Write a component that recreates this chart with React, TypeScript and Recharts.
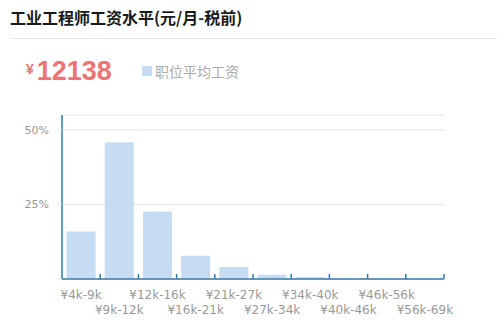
import { BarChart, Bar, XAxis, YAxis, CartesianGrid } from "recharts";

const salaryRanges = [
  "¥4k-9k",
  "¥9k-12k",
  "¥12k-16k",
  "¥16k-21k",
  "¥21k-27k",
  "¥27k-34k",
  "¥34k-40k",
  "¥40k-46k",
  "¥46k-56k",
  "¥56k-69k",
];
const sharePercent = [15.9, 45.9, 22.6, 7.8, 4.0, 1.4, 0.7, 0, 0, 0];
const yTicks = [0, 25, 50];

const averageSalary = "12138";
const seriesName = "职位平均工资";

const AXIS_COLOR = "#2f7db3";
const BAR_COLOR = "#c6dcf2";
const GRID_COLOR = "#e6e6e6";
const LABEL_COLOR = "#999999";

const CHART_W = 497;
const MARGIN = { top: 15, right: 53, left: 12, bottom: 8 };
const Y_AXIS_W = 50;
// half of one category band, from the fixed layout
const HALF_BAND = (CHART_W - MARGIN.left - MARGIN.right - Y_AXIS_W) / salaryRanges.length / 2;

const data = salaryRanges.map((label, i) => ({ label, value: sharePercent[i] }));

// staggered labels + small boundary tick at the right edge of each band
function RangeTick(props: any) {
  const { x, y, payload, index } = props;
  const axisY = y - 8;
  return (
    <g>
      <line
        x1={x + HALF_BAND}
        x2={x + HALF_BAND}
        y1={axisY - 5}
        y2={axisY}
        stroke={AXIS_COLOR}
        strokeWidth={1.5}
      />
      <text
        x={x}
        y={axisY + (index % 2 === 0 ? 16 : 31)}
        textAnchor="middle"
        dominantBaseline="central"
        fontSize={12}
        fontFamily="DejaVu Sans"
        fill={LABEL_COLOR}
      >
        {payload.value}
      </text>
    </g>
  );
}

export default function App() {
  return (
    <div
      style={{
        position: "absolute",
        left: 0,
        top: 0,
        width: 497,
        height: 327,
        background: "#fff",
        fontFamily: "'Noto Sans CJK SC', sans-serif",
      }}
    >
      <div
        style={{
          position: "absolute",
          left: 10,
          top: 6,
          fontSize: 16,
          fontWeight: 700,
          color: "#1a1a1a",
          lineHeight: "22px",
          whiteSpace: "nowrap",
        }}
      >
        工业工程师工资水平(元/月-税前)
      </div>
      <div style={{ position: "absolute", left: 10, right: 0, top: 38, height: 1, background: "#e8e8e8" }} />

      <div
        style={{
          position: "absolute",
          left: 26,
          top: 55,
          color: "#ee7474",
          fontWeight: 700,
          fontFamily: "'Liberation Sans', Arial, sans-serif",
          whiteSpace: "nowrap",
          lineHeight: "32px",
        }}
      >
        <span style={{ fontSize: 14, verticalAlign: "top", position: "relative", top: -2 }}>¥</span>
        <span style={{ fontSize: 27, marginLeft: 3 }}>{averageSalary}</span>
      </div>
      <div style={{ position: "absolute", left: 142, top: 66, width: 10, height: 10, background: BAR_COLOR }} />
      <div
        style={{
          position: "absolute",
          left: 155,
          top: 61,
          fontSize: 14,
          lineHeight: "20px",
          color: "#aaaaaa",
          whiteSpace: "nowrap",
        }}
      >
        {seriesName}
      </div>

      <div style={{ position: "absolute", left: 0, top: 100 }}>
        <BarChart width={CHART_W} height={227} data={data} margin={MARGIN} barCategoryGap="12%">
          <CartesianGrid vertical={false} stroke={GRID_COLOR} />
          <XAxis
            dataKey="label"
            interval={0}
            height={40}
            tickLine={false}
            axisLine={{ stroke: AXIS_COLOR, strokeWidth: 1.5 }}
            tick={<RangeTick />}
          />
          <YAxis
            width={Y_AXIS_W}
            domain={[0, 55]}
            ticks={yTicks}
            tickFormatter={(v: number) => (v === 0 ? "" : `${v}%`)}
            axisLine={{ stroke: AXIS_COLOR, strokeWidth: 1.5 }}
            tickLine={{ stroke: GRID_COLOR }}
            tickSize={5}
            tickMargin={8}
            tick={{ fontSize: 11, fill: LABEL_COLOR, fontFamily: "DejaVu Sans" }}
          />
          <Bar dataKey="value" fill={BAR_COLOR} isAnimationActive={false} />
        </BarChart>
      </div>
    </div>
  );
}
